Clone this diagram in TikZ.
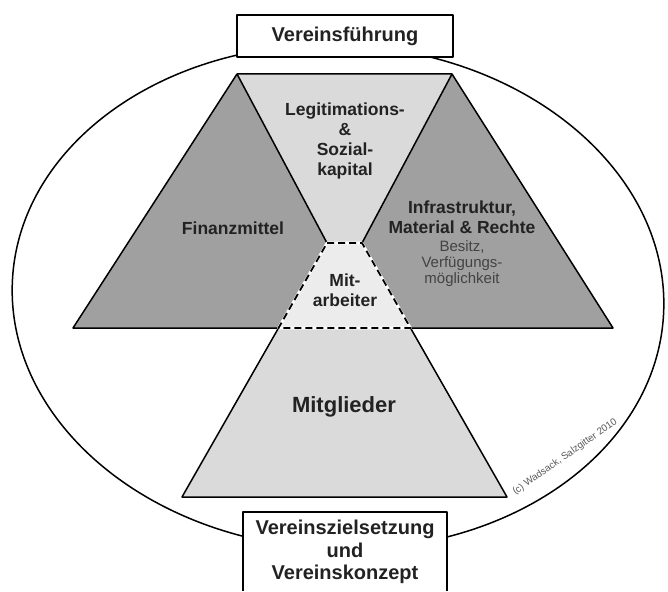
\documentclass[tikz,border=0pt]{standalone}
\usepackage{fontspec}
\setmainfont{Liberation Sans}
\definecolor{dark}{RGB}{160,160,160}
\definecolor{light}{RGB}{218,218,218}
\definecolor{lighter}{RGB}{236,236,236}
\definecolor{ink}{RGB}{34,34,34}
\begin{document}
\begin{tikzpicture}[x=1pt,y=-1pt, line join=round,
  lbl/.style={font=\bfseries\fontsize{17.5}{20}\selectfont, text=ink, align=center, inner sep=0pt},
  sub/.style={font=\fontsize{15}{16}\selectfont, text=ink!85, align=center, inner sep=0pt},
  boxlbl/.style={font=\bfseries\fontsize{20}{22.5}\selectfont, text=ink, align=center, inner sep=0pt},
  solidline/.style={draw=black, line width=1.5pt},
  dashline/.style={draw=black, line width=1.8pt, dash pattern=on 7pt off 4pt}]
\useasboundingbox (0,0) rectangle (668,591);
\fill[white] (0,0) rectangle (668,591);
% outer ellipse
\draw[line width=1.5pt, rotate around={-3:(338,297)}] (338,297) ellipse [x radius=326pt, y radius=252pt];
% key points
\coordinate (TL) at (237,74);
\coordinate (TR) at (452,74);
\coordinate (WL) at (327,243);
\coordinate (WR) at (362,243);
\coordinate (ML) at (278.5,328);
\coordinate (MR) at (410.5,328);
\coordinate (FL) at (73,328);
\coordinate (IR) at (613,328);
\coordinate (BL) at (182,497);
\coordinate (BR) at (507,497);
% fills
\fill[dark] (TL) -- (WL) -- (ML) -- (FL) -- cycle;
\fill[dark] (TR) -- (IR) -- (MR) -- (WR) -- cycle;
\fill[light] (TL) -- (TR) -- (WR) -- (WL) -- cycle;
\fill[lighter] (WL) -- (WR) -- (MR) -- (ML) -- cycle;
\fill[light] (ML) -- (MR) -- (BR) -- (BL) -- cycle;
% solid outlines
\draw[solidline] (ML) -- (FL) -- (TL) -- (TR) -- (IR) -- (MR);
\draw[solidline] (TL) -- (WL);
\draw[solidline] (TR) -- (WR);
\draw[solidline] (ML) -- (BL) -- (BR) -- (MR);
% dashed Mitarbeiter trapezoid
\draw[white, line width=2.6pt] (WL) -- (WR) -- (MR) -- (ML) -- cycle;
\draw[dashline] (WL) -- (WR) -- (MR) -- (ML) -- cycle;
% labels
\node[lbl] (legit) at (345,141) {Legitimations-\\\&\\Sozial-\\kapital};
\node[lbl] (fin) at (233,228) {Finanzmittel};
\node[lbl] (infra) at (462,217.5) {Infrastruktur,\\Material \& Rechte};
\node[sub] (besitz) at (462,264) {Besitz,\\Verfügungs-\\möglichkeit};
\node[lbl] (mitarb) at (345,290) {Mit-\\arbeiter};
\node[lbl, font=\bfseries\fontsize{22}{24}\selectfont] (mitgl) at (344,407) {Mitglieder};
% top box
\node[boxlbl, draw=black, line width=1.8pt, fill=white, minimum width=216pt, minimum height=42pt] (fuehrung) at (345,36) {Vereinsführung};
% bottom box
\fill[white] (243,512) rectangle (447,591);
\draw[line width=1.8pt] (243,591) -- (243,512) -- (447,512) -- (447,591);
\node[boxlbl] (ziel) at (345,552) {Vereinszielsetzung\\und\\Vereinskonzept};
% copyright
\node[font=\fontsize{9.8}{12}\selectfont, text=ink!75, rotate=35, inner sep=0pt] (copy) at (565,457) {(c) Wadsack, Salzgitter 2010};
\end{tikzpicture}
\end{document}
